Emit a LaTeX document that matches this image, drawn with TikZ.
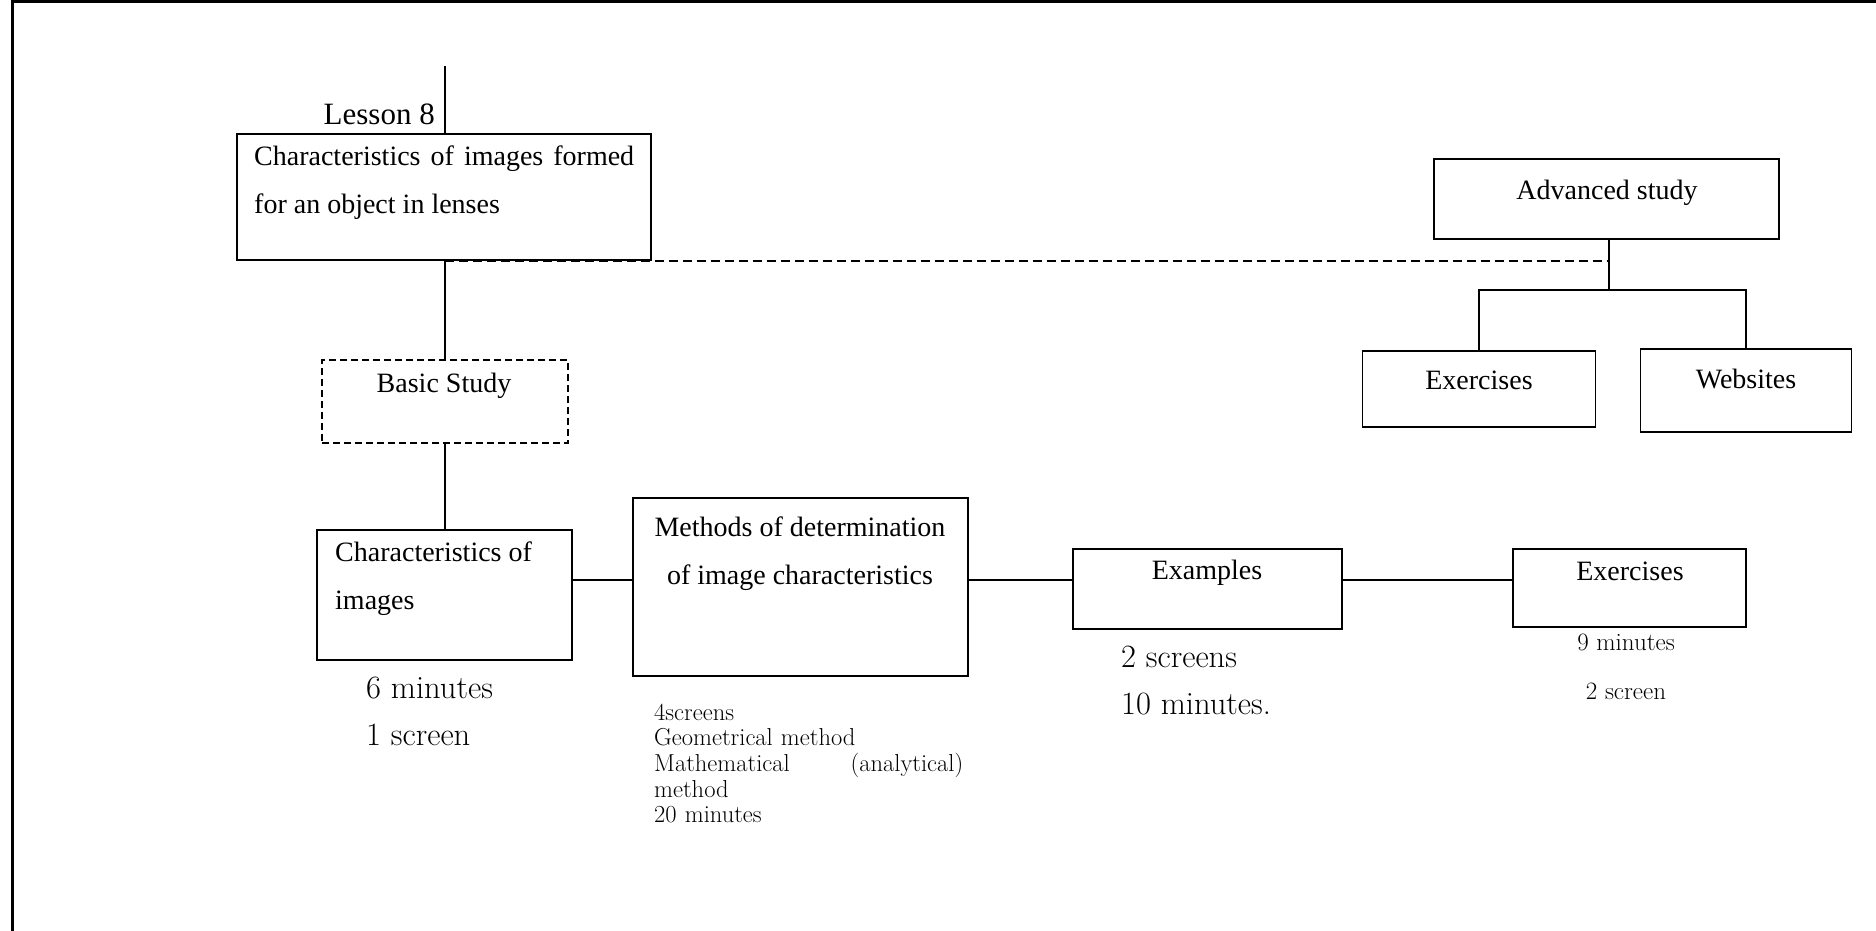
\documentclass[tikz,border=0pt]{standalone}
\usepackage{fontspec}
\newfontfamily\tnr{Liberation Serif}
\begin{document}
\begin{tikzpicture}[x=1pt,y=-1pt,
  box/.style={draw,line width=1.8pt,inner sep=0pt},
  dbox/.style={draw,line width=1.5pt,dash pattern=on 7pt off 4pt,inner sep=0pt},
  conn/.style={line width=1.6pt},
  dconn/.style={line width=1.6pt,dash pattern=on 9pt off 5pt},
  tt/.style={font=\tnr\fontsize{28}{48}\selectfont,inner sep=0pt},
  ct/.style={font=\fontsize{32.5}{47}\selectfont,inner sep=0pt},
  st/.style={font=\fontsize{24.5}{25.7}\selectfont,inner sep=0pt},
  mt/.style={font=\fontsize{25}{49}\selectfont,inner sep=0pt}]
\useasboundingbox (0,0) rectangle (1876,930);
% frame
\draw[line width=3pt] (12,931) -- (12,1.5) -- (1877,1.5);
% boxes
\node[box,minimum width=414pt,minimum height=126pt] (main) at (444,197) {};
\node[dbox,minimum width=246pt,minimum height=83pt] (basic) at (445,401.5) {};
\node[box,minimum width=255pt,minimum height=130pt] (chars) at (444.5,595) {};
\node[box,minimum width=335pt,minimum height=178pt] (meth) at (800.5,587) {};
\node[box,minimum width=269pt,minimum height=80pt] (ex) at (1207.5,589) {};
\node[box,minimum width=233pt,minimum height=78pt] (exr) at (1629.5,588) {};
\node[box,minimum width=345pt,minimum height=80pt] (adv) at (1606.5,199) {};
\node[box,minimum width=233pt,minimum height=76pt] (exa) at (1479,389) {};
\node[box,minimum width=211pt,minimum height=83pt] (web) at (1746,390.5) {};
% connectors
\coordinate (top) at (445,66);
\coordinate (mainb) at (445,260);
\coordinate (advb) at (1609,239);
\coordinate (split) at (1609,290);
\draw[conn] (top) -- (main.north -| top);
\draw[conn] (mainb) -- (basic.north);
\draw[conn] (basic.south) -- (chars.north -| basic.south);
\draw[dconn] (445,261) -- (1609,261);
\draw[conn] (chars.east |- 0,580) -- (meth.west |- 0,580);
\draw[conn] (meth.east |- 0,580) -- (ex.west |- 0,580);
\draw[conn] (ex.east |- 0,580) -- (exr.west |- 0,580);
\draw[conn] (advb) -- (split);
\draw[conn] (exa.north) -- (exa.north |- split) -- (web.north |- split) -- (web.north);
% texts
\node[tt,font=\tnr\fontsize{31}{40}\selectfont,anchor=base east] (lesson) at (435,124) {Lesson 8};
\node[tt,anchor=base west,align=left] (maintxt) at (254,213) {\makebox[380pt][s]{Characteristics of images formed}\\for an object in lenses};
\node[tt,anchor=base] (advt) at (1607,199) {Advanced study};
\node[tt,anchor=base] (basict) at (444,392) {Basic Study};
\node[tt,anchor=base] (exat) at (1479,389) {Exercises};
\node[tt,anchor=base] (webt) at (1746,388) {Websites};
\node[tt,anchor=base west,align=left] (charst) at (335,609) {Characteristics of\\images};
\node[tt,anchor=base,align=center] (metht) at (800,584) {Methods of determination\\of image characteristics};
\node[tt,anchor=base] (ext) at (1207,579) {Examples};
\node[tt,anchor=base] (exrt) at (1630,580) {Exercises};
\node[ct,anchor=base west,align=left] (chmin) at (366,745) {6 minutes\\1 screen};
\node[ct,anchor=base west,align=left] (exmin) at (1121,714) {2 screens\\10 minutes.};
\node[mt,anchor=base,align=center] (exrmin) at (1626,699) {9 minutes\\2 screen};
\node[st,anchor=base west,align=left,text width=309pt] (methmin) at (654,720) {4screens\\Geometrical method\\\makebox[309pt][s]{Mathematical\hfill(analytical)}\\method\\20 minutes};
\end{tikzpicture}
\end{document}
